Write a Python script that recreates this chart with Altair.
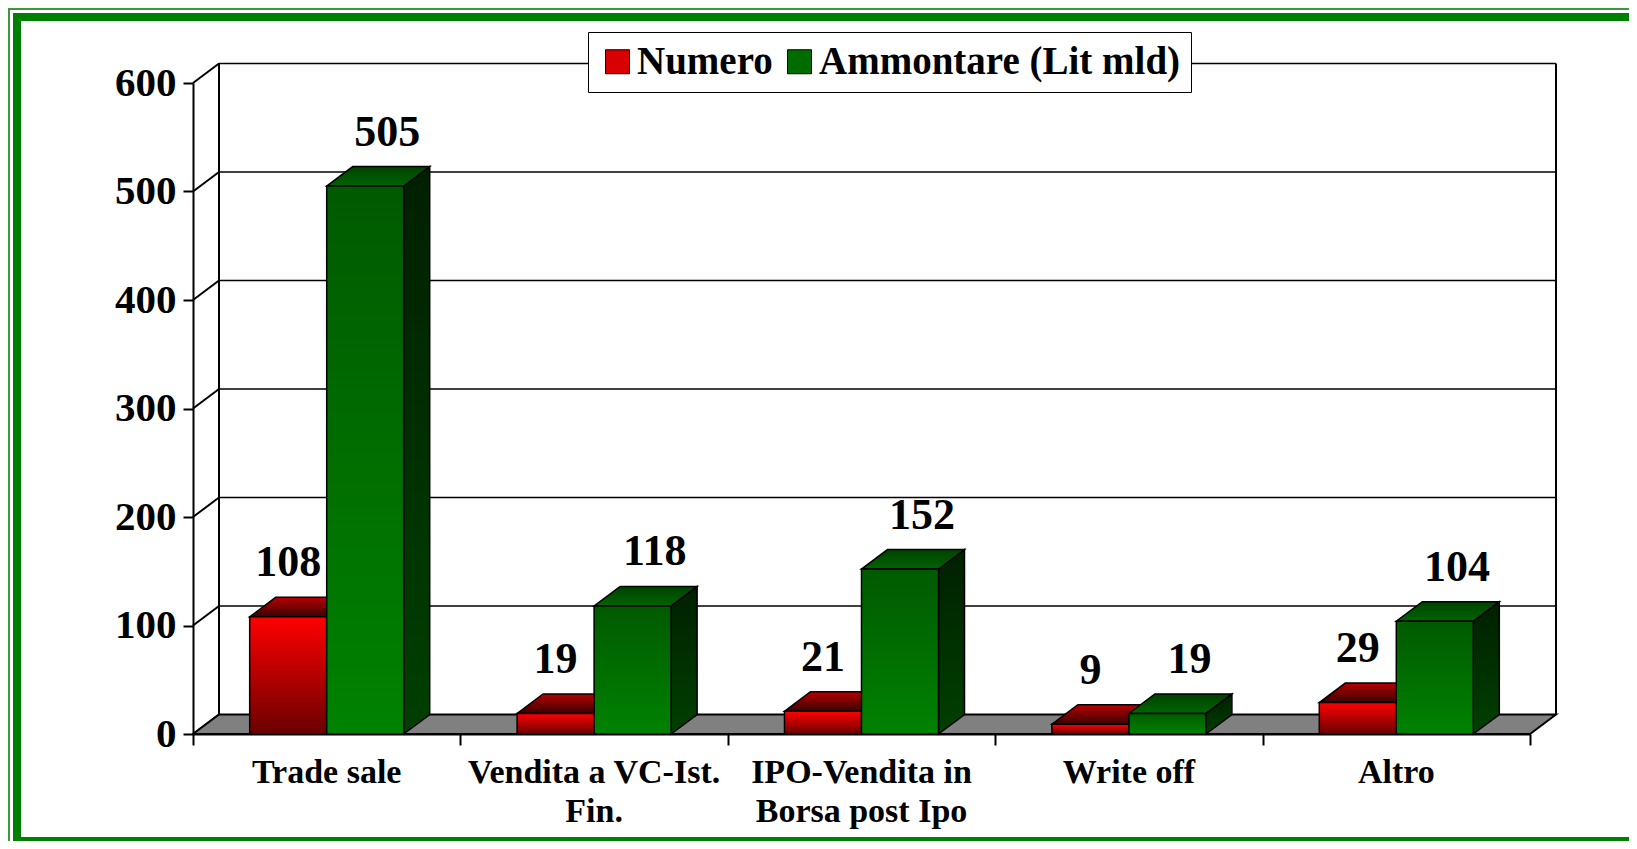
import altair as alt
import pandas as pd

# ---------------- data ----------------
categories = ["Trade sale", "Vendita a VC-Ist.\nFin.", "IPO-Vendita in\nBorsa post Ipo", "Write off", "Altro"]
numero = [108, 19, 21, 9, 29]
ammontare = [505, 118, 152, 19, 104]
series_names = ["Numero", "Ammontare (Lit mld)"]
y_ticks = [0, 100, 200, 300, 400, 500, 600]

# ---------------- geometry (in data units) ----------------
N = len(categories)
W_PX, H_PX = 1337, 651
Y_MAX = 600
BAR_W = 0.288                      # width of one bar, in category units
DX = 26 / (W_PX / N)               # depth offset, x
DY = 19.5 / (H_PX / Y_MAX)         # depth offset, y
FONT = "Liberation Serif"

bars, tops, sides, labels_v, labels_c = [], [], [], [], []
for i, cat in enumerate(categories):
    c = i + 0.5
    labels_c.append(dict(cat=cat, x=c, y=0))
    for s, vals in enumerate((numero, ammontare)):
        v = vals[i]
        x0 = c - BAR_W + s * BAR_W
        x1 = x0 + BAR_W
        bid = f"{i}-{s}"
        bars.append(dict(id=bid, s=s, series=series_names[s], x0=x0, x1=x1, xc=(x0 + x1) / 2, v=v, base=0))
        tops += [dict(id=bid, s=s, x=x0, lo=v, hi=v),
                 dict(id=bid, s=s, x=x0 + DX, lo=v, hi=v + DY),
                 dict(id=bid, s=s, x=x1, lo=v, hi=v + DY),
                 dict(id=bid, s=s, x=x1 + DX, lo=v + DY, hi=v + DY)]
        sides += [dict(id=bid, s=s, x=x1, lo=0, hi=v),
                  dict(id=bid, s=s, x=x1 + DX, lo=DY, hi=v + DY)]
        lx = (x0 + x1) / 2 + (0.85 * DX if s == 1 else 0)
        labels_v.append(dict(s=s, x=lx, y=v + DY, txt=str(v)))

bars = pd.DataFrame(bars)
tops = pd.DataFrame(tops)
sides = pd.DataFrame(sides)
labels_v = pd.DataFrame(labels_v)
labels_c = pd.DataFrame(labels_c)

grid = pd.DataFrame(dict(y=[t + DY for t in y_ticks[1:]], x=DX, x2=N + DX))
walls = pd.DataFrame(dict(x=[DX, N + DX], y=DY, y2=Y_MAX + DY))
diags = pd.DataFrame(dict(x=0, x2=DX, y=y_ticks, y2=[t + DY for t in y_ticks]))
floor = pd.DataFrame(dict(x=[0, DX, N, N + DX], lo=[0, 0, 0, DY], hi=[0, DY, DY, DY]))
one = pd.DataFrame({"k": [0]})

# ---------------- scales / axes ----------------
xs = alt.Scale(domain=[0, N], nice=False, zero=False, padding=0)
ys = alt.Scale(domain=[0, Y_MAX], nice=False, padding=0)
x_axis = alt.Axis(values=list(range(N + 1)), labels=False, title=None, grid=False,
                  domainColor="black", domainWidth=2, tickColor="black", tickWidth=2, tickSize=11)
y_axis = alt.Axis(values=y_ticks, title=None, grid=False, domainColor="black", domainWidth=2,
                  tickColor="black", tickWidth=2, tickSize=10, labelFont=FONT, labelFontSize=41,
                  labelFontWeight="bold", labelColor="black", labelPadding=7)


def X(f):
    return alt.X(f, type="quantitative", scale=xs, axis=x_axis)


def Y(f):
    return alt.Y(f, type="quantitative", scale=ys, axis=y_axis)


def grad(c0, c1):
    return alt.Gradient(gradient="linear", x1=0, x2=0, y1=0, y2=1,
                        stops=[alt.GradientStop(color=c0, offset=0), alt.GradientStop(color=c1, offset=1)])


# ---------------- frame (decoration) ----------------
def frame_rect(x, x2, y, y2, color):
    return alt.Chart(one).mark_rect(color=color).encode(
        x=alt.value(x), x2=alt.value(x2), y=alt.value(y), y2=alt.value(y2))

frame = [
    frame_rect(-185, 1500, -75, -73, "#3a9a3a"),
    frame_rect(-185, -183, -75, 800, "#3a9a3a"),
    frame_rect(-180, 1500, -70, -62, "#008000"),
    frame_rect(-180, -172, -70, 800, "#008000"),
    frame_rect(-180, 1500, 754, 800, "#008000"),
]

# ---------------- back wall & floor ----------------
grid_l = alt.Chart(grid).mark_rule(color="black", strokeWidth=1.5).encode(x=X("x"), x2="x2", y=Y("y"))
walls_l = alt.Chart(walls).mark_rule(color="black", strokeWidth=2).encode(x=X("x"), y=Y("y"), y2="y2")
diags_l = alt.Chart(diags).mark_rule(color="black", strokeWidth=2).encode(x=X("x"), x2="x2", y=Y("y"), y2="y2")
floor_l = alt.Chart(floor).mark_area(fill="#808080", stroke="black", strokeWidth=2).encode(
    x=X("x"), y=Y("lo"), y2="hi")

# ---------------- bars ----------------
FRONT = [grad("#ff0000", "#6a0000"), grad("#005a00", "#008200")]
TOP = [grad("#b80000", "#3a0000"), grad("#004200", "#006400")]
SIDE = [grad("#5a0000", "#300000"), grad("#002000", "#004000")]

bar_layers = []
for s in range(2):
    side_l = alt.Chart(sides[sides.s == s]).mark_area(fill=SIDE[s], stroke="black", strokeWidth=1.5).encode(
        x=X("x"), y=Y("lo"), y2="hi", detail="id:N")
    top_l = alt.Chart(tops[tops.s == s]).mark_area(fill=TOP[s], stroke="black", strokeWidth=1.5).encode(
        x=X("x"), y=Y("lo"), y2="hi", detail="id:N")
    front_l = alt.Chart(bars[bars.s == s]).mark_rect(fill=FRONT[s], stroke="black", strokeWidth=1.5).encode(
        x=X("x0"), x2="x1", y=Y("base"), y2="v")
    bar_layers += [side_l, top_l, front_l]

# ---------------- text ----------------
vlabels = alt.Chart(labels_v).mark_text(font=FONT, fontSize=44, fontWeight="bold", color="black",
                                        align="center", baseline="alphabetic", dy=-21).encode(
    x=X("x"), y=Y("y"), text="txt:N")
clabels = alt.Chart(labels_c).mark_text(font=FONT, fontSize=34, fontWeight="bold", color="black",
                                        align="center", baseline="alphabetic", dy=49, lineHeight=39,
                                        lineBreak="\n").encode(
    x=X("x"), y=Y("y"), text="cat:N")

# ---------------- legend (driven by the bar data) ----------------
legend_l = alt.Chart(bars).mark_square(opacity=0, size=1).encode(
    x=X("xc"), y=Y("v"),
    color=alt.Color("series:N", scale=alt.Scale(domain=series_names, range=["#d80000", "#006c00"]),
                    legend=alt.Legend(orient="none", legendX=395, legendY=-51, direction="horizontal",
                                      title=None, fillColor="white", strokeColor="black", padding=10,
                                      symbolType="square", symbolSize=576, symbolStrokeColor="black",
                                      symbolStrokeWidth=1, symbolOpacity=1, labelFont=FONT,
                                      labelFontSize=39, labelFontWeight="bold", labelColor="black",
                                      labelOffset=0, columnPadding=7, labelLimit=600)))

chart = alt.layer(
    *frame, grid_l, walls_l, diags_l, floor_l, *bar_layers, vlabels, clabels, legend_l
).properties(
    width=W_PX, height=H_PX,
    autosize=alt.AutoSizeParams(type="none"),
    padding={"left": 185, "top": 75, "right": 99, "bottom": 107},
    background="white",
).configure_view(stroke=None)

chart.save("out.html", embed_options={"renderer": "svg", "actions": False})
